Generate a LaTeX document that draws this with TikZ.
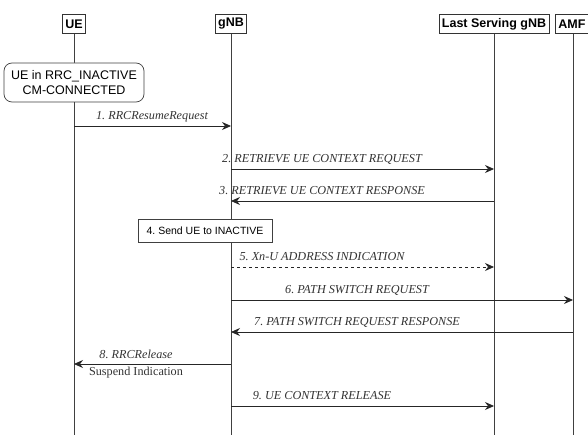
\documentclass[tikz,border=0pt]{standalone}
\usepackage{fontspec}
\setmainfont{Liberation Serif}
\setsansfont{Liberation Sans}
\usetikzlibrary{arrows.meta}
\frenchspacing
\begin{document}
\begin{tikzpicture}[x=1pt,y=-1pt,
  head/.style={draw=black!80,line width=0.8pt,fill=white,font=\sffamily\bfseries\fontsize{12.5}{14}\selectfont,inner xsep=3pt,inner ysep=1pt,minimum height=19pt,anchor=center},
  life/.style={draw=black!75,line width=0.7pt},
  msg/.style={draw=black!85,line width=0.8pt,-{Stealth[length=9pt,width=8pt,inset=3pt]}},
  lab/.style={font=\itshape\fontsize{12.2}{14}\selectfont,inner sep=1pt,text=black!80},
  note/.style={draw=black!75,line width=0.7pt,fill=white,font=\sffamily\fontsize{10.5}{12}\selectfont,align=center}]
\useasboundingbox (0,0) rectangle (588,435);
% headers
\node[head] (ue) at (74,24) {UE};
\node[head] (gnb) at (231,24) {gNB};
\node[head] (lsg) at (494,24) {Last Serving gNB};
\node[head,anchor=west] (amf) at (555,24) {AMF};
% lifeline ends
\coordinate (ueE) at (74,435);
\coordinate (gnbE) at (231,435);
\coordinate (lsgE) at (494,435);
\coordinate (amfE) at (573,435);
\draw[life] (ue.south) -- (ueE);
\draw[life] (gnb.south) -- (gnbE);
\draw[life] (lsg.south) -- (lsgE);
\draw[life] (amf.south -| amfE) -- (amfE);
% state box
\node[note,font=\sffamily\fontsize{12.5}{15}\selectfont,rounded corners=8pt,minimum width=140pt,minimum height=39pt,inner sep=2pt] (st) at (74,82.5) {UE in RRC\_INACTIVE\\CM-CONNECTED};
% message coordinates
\coordinate (a1) at (74,126); \coordinate (b1) at (231,126);
\coordinate (a2) at (231,169); \coordinate (b2) at (494,169);
\coordinate (a3) at (494,201); \coordinate (b3) at (231,201);
\coordinate (a5) at (231,267); \coordinate (b5) at (494,267);
\coordinate (a6) at (231,300); \coordinate (b6) at (573,300);
\coordinate (a7) at (573,332); \coordinate (b7) at (231,332);
\coordinate (a8) at (231,364); \coordinate (b8) at (74,364);
\coordinate (a9) at (231,406); \coordinate (b9) at (494,406);
\draw[msg] (a1) -- (b1);
\draw[msg] (a2) -- (b2);
\draw[msg] (a3) -- (b3);
\node[note,minimum width=134pt,minimum height=23pt,inner sep=2pt] (s4) at (205,230.5) {4. Send UE to INACTIVE};
\draw[msg,dashed] (a5) -- (b5);
\draw[msg] (a6) -- (b6);
\draw[msg] (a7) -- (b7);
\draw[msg] (a8) -- (b8);
\draw[msg] (a9) -- (b9);
% labels
\node[lab] (l1) at (152,117) {1. RRCResumeRequest};
\node[lab] (l2) at (322,159) {2. RETRIEVE UE CONTEXT REQUEST};
\node[lab] (l3) at (322,191) {3. RETRIEVE UE CONTEXT RESPONSE};
\node[lab] (l5) at (322,257) {5. \textit{Xn}-U ADDRESS INDICATION};
\node[lab] (l6) at (357,290) {6. PATH SWITCH REQUEST};
\node[lab] (l7) at (357,322) {7. PATH SWITCH REQUEST RESPONSE};
\node[lab] (l8) at (136,354) {8. RRCRelease};
\node[lab,font=\fontsize{12.2}{14}\selectfont] (l8b) at (136,373) {Suspend Indication};
\node[lab] (l9) at (322,396) {9. UE CONTEXT RELEASE};
\end{tikzpicture}
\end{document}
